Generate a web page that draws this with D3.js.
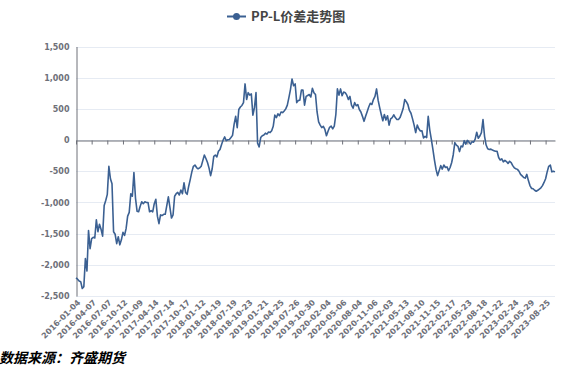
<!DOCTYPE html>
<html>
<head>
<meta charset="utf-8">
<script src="https://cdn.jsdelivr.net/npm/d3@7"></script>
<style>
  body { margin: 0; background: #fff; }
  svg { display: block; }
</style>
</head>
<body>
<div id="chart"></div>
<script>
// PP-L spread (10 points between two date labels)
let spread = [
    -2210, -2230, -2260, -2270, -2380, -2350, -1900, -2100, -1450, -1740,
    -1580, -1560, -1570, -1280, -1470, -1350, -1430, -1540, -1050, -970,
    -870, -420, -620, -700, -1470, -1510, -1660, -1550, -1680, -1600,
    -1480, -1530, -1420, -1220, -1160, -860, -900, -520, -930, -1140,
    -1150, -1060, -990, -1020, -990, -1000, -1000, -1150, -1130, -1150,
    -1020, -950, -1220, -1340, -1200, -1210, -1190, -1190, -1050, -910,
    -1080, -1250, -1200, -900, -860, -840, -880, -800, -860, -685,
    -840, -870, -740, -630, -510, -420, -400, -440, -460, -445,
    -420, -330, -240, -295, -360, -450, -570, -460, -260, -240,
    -270, -180, -150, -70, 0, 50, -10, 5, 10, 40,
    75, 250, 380, 200, 490, 530, 555, 600, 900, 650,
    760, 720, 740, 400, 520, 760, -50, -110, 40, 70,
    80, 110, 95, 130, 120, 150, 220, 400, 360, 420,
    390, 450, 440, 465, 500, 560, 680, 810, 980, 870,
    900, 600, 635, 640, 800, 800, 560, 700, 715, 730,
    690, 830, 760, 730, 450, 290, 240, 200, 220, 170,
    70, 140, 205, 225, 180, 225, 410, 820, 720, 820,
    710, 770, 760, 720, 650, 700, 560, 510, 600, 550,
    570, 490, 450, 380, 300, 380, 455, 530, 590, 570,
    650, 700, 820, 640, 520, 410, 310, 410, 320, 390,
    240, 340, 360, 405, 360, 330, 330, 360, 430, 505,
    650, 615, 570, 475, 430, 340, 240, 120, 240, 180,
    145, 150, 35, 60, 40, 380, 160, 10, -150, -320,
    -470, -570, -490, -410, -465, -400, -440, -430, -490, -440,
    -360, -235, -40, -80, -100, -185, -95, -110, -10, -65,
    -5, -30, -65, -25, -35, 15, 125, 30, 65, 120,
    330, 60, -80, -140, -150, -145, -160, -170, -180, -180,
    -280, -320, -300, -350, -325, -345, -375, -340, -360, -410,
    -445, -460, -470, -500, -550, -575, -600, -610, -550, -650,
    -730, -775, -780, -805, -820, -805, -785, -765, -730, -680,
    -620, -510, -420, -400, -510, -500, -510
]

let dateLabels = [
    "2016-01-04", "2016-04-07", "2016-07-07", "2016-10-12", "2017-01-09",
    "2017-04-14", "2017-07-14", "2017-10-17", "2018-01-12", "2018-04-19",
    "2018-07-19", "2018-10-23", "2019-01-21", "2019-04-25", "2019-07-26",
    "2019-10-30", "2020-02-04", "2020-05-06", "2020-08-04", "2020-11-06",
    "2021-02-03", "2021-05-13", "2021-08-10", "2021-11-15", "2022-02-17",
    "2022-05-23", "2022-08-18", "2022-11-22", "2023-02-24", "2023-05-29",
    "2023-08-25"
]
let pointsPerLabel = 10

let yTicks = [-2500, -2000, -1500, -1000, -500, 0, 500, 1000, 1500]

let seriesName = "PP-L价差走势图"
let sourceText = "数据来源：齐盛期货"

function main(){

    let width = 567;
    let height = 377;
    let left = 76, right = 555, top = 46.5, bottom = 296;
    let lineColor = "#3b6092";
    let labelColor = "#6e7079";

    let svg = d3.select("#chart")
                .append("svg")
                .attr("width", width)
                .attr("height", height)

    let xScale = d3.scaleLinear()
                    .domain([0, spread.length - 1])
                    .range([left, right])

    let yScale = d3.scaleLinear()
                    .domain([yTicks[0], yTicks[yTicks.length - 1]])
                    .range([bottom, top])

    let fmt = d3.formatLocale({decimal: ".", thousands: ",", grouping: [3], currency: ["", ""], minus: "-"}).format(",")

    // horizontal grid
    svg.append("g")
        .attr("id", "grid")
        .selectAll("line")
        .data(yTicks)
        .enter()
        .append("line")
        .attr("x1", left)
        .attr("x2", right)
        .attr("y1", d => Math.round(yScale(d)) + 0.5)
        .attr("y2", d => Math.round(yScale(d)) + 0.5)
        .attr("stroke", "#e6ebf3")
        .attr("stroke-width", 1)

    // y axis, no ticks
    let yAxis = d3.axisLeft(yScale)
                    .tickValues(yTicks)
                    .tickFormat(fmt)
                    .tickSize(0)
                    .tickPadding(7)
    let yg = svg.append("g")
                .attr("id", "yaxis")
                .attr("transform", `translate(${left + 0.5},0)`)
                .call(yAxis)
    yg.select(".domain").attr("stroke", "#6e7079")
    yg.selectAll("text")
        .attr("fill", labelColor)
        .style("font-family", "'DejaVu Sans', sans-serif")
        .style("font-size", "8px")
        .style("font-weight", "bold")

    // x axis sits on zero, labels go to the bottom
    let tickIdx = dateLabels.map((d, i) => i * pointsPerLabel)
    let xAxis = d3.axisBottom(xScale)
                    .tickValues(tickIdx)
                    .tickFormat("")
                    .tickSizeInner(4)
                    .tickSizeOuter(0)
    let xg = svg.append("g")
                .attr("id", "xaxis")
                .attr("transform", `translate(0,${Math.round(yScale(0)) + 0.5})`)
                .call(xAxis)
    xg.select(".domain").attr("stroke", "#6e7079")
    xg.selectAll(".tick line").attr("stroke", "#6e7079")

    svg.append("g")
        .attr("id", "xlabels")
        .selectAll("text")
        .data(dateLabels)
        .enter()
        .append("text")
        .attr("transform", (d, i) => `translate(${xScale(i * pointsPerLabel) + 3},${bottom + 5}) rotate(-45)`)
        .attr("text-anchor", "end")
        .attr("dy", "0.35em")
        .attr("fill", labelColor)
        .style("font-family", "'DejaVu Sans', sans-serif")
        .style("font-size", "8px")
        .style("font-weight", "bold")
        .text(d => d)

    // the series
    let line = d3.line()
                .x((d, i) => xScale(i))
                .y(d => yScale(d))

    svg.append("path")
        .datum(spread)
        .attr("d", line)
        .attr("fill", "none")
        .attr("stroke", lineColor)
        .attr("stroke-width", 1.6)
        .attr("stroke-linejoin", "round")

    // legend / title
    let legend = svg.append("g")
                    .attr("id", "legend")
                    .attr("transform", "translate(227,16.5)")
    legend.append("line")
        .attr("x1", 0).attr("x2", 19)
        .attr("stroke", lineColor)
        .attr("stroke-width", 2)
    legend.append("circle")
        .attr("cx", 9.5)
        .attr("r", 3.5)
        .attr("fill", lineColor)
    legend.append("text")
        .attr("x", 24)
        .attr("dy", "0.36em")
        .attr("fill", "#444")
        .style("font-family", "'Noto Sans CJK SC', sans-serif")
        .style("font-size", "13px")
        .style("font-weight", "bold")
        .text(seriesName)

    // source note
    svg.append("text")
        .attr("x", -1)
        .attr("y", 363)
        .attr("fill", "#000")
        .style("font-family", "'Noto Sans CJK SC', sans-serif")
        .style("font-size", "14px")
        .style("font-weight", "bold")
        .style("font-style", "italic")
        .text(sourceText)
}

main()
</script>
</body>
</html>
